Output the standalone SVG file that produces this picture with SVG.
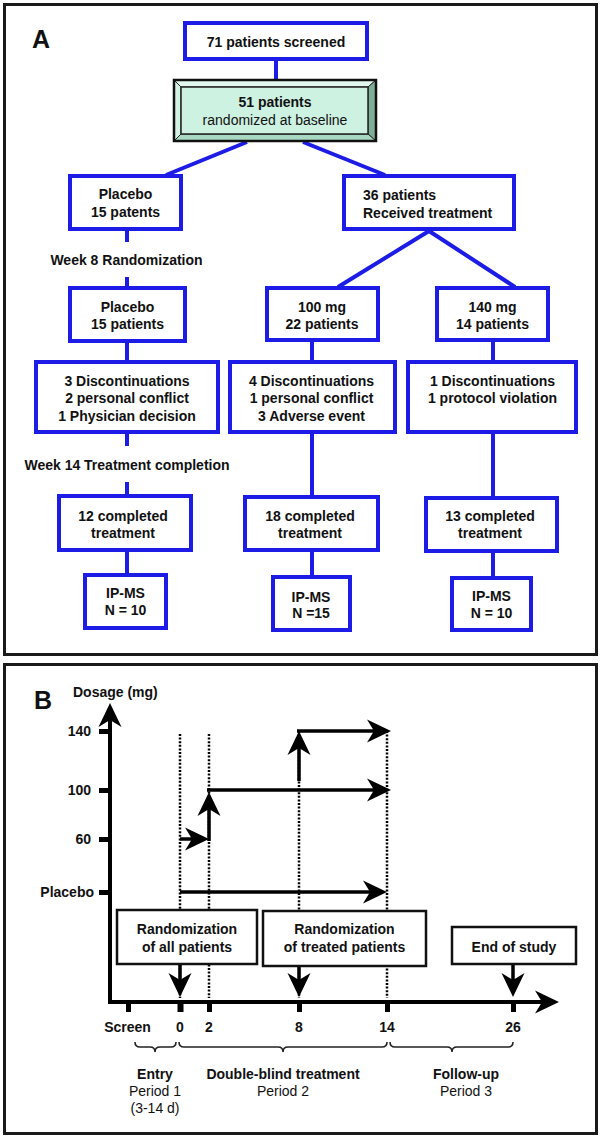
<svg xmlns="http://www.w3.org/2000/svg" width="600" height="1137" viewBox="0 0 600 1137">
<defs>
<style>
text{font-family:"Liberation Sans",Arial,sans-serif;font-size:14px;fill:#111;}
.b{font-weight:bold;}
.c{text-anchor:middle;}
.lbl{font-size:25px;font-weight:bold;}
.panel{fill:none;stroke:#1a1a1a;stroke-width:3;}
.bx{fill:#fff;stroke:#1c1ce6;stroke-width:4;}
.con line{stroke:#1c1ce6;stroke-width:4;}
.kb{fill:#fff;stroke:#111;stroke-width:2.5;}
.ax{stroke:#000;stroke-width:4;fill:none;}
.ar{stroke:#000;stroke-width:3.5;fill:none;}
.dot{stroke:#000;stroke-width:2.5;stroke-dasharray:2 1.6;fill:none;}
.tick{fill:#000;}
.brace{fill:none;stroke:#222;stroke-width:1.6;}
</style>
<marker id="ah" viewBox="-11 -12 26 24" markerWidth="26" markerHeight="24" markerUnits="userSpaceOnUse" refX="0" refY="0" orient="auto">
<path d="M-10,-11.5 L14,0 L-10,11.5 L-3,0 Z" fill="#000"/>
</marker>
</defs>
<rect width="600" height="1137" fill="#fff"/>

<!-- Panel A -->
<rect class="panel" x="4.5" y="4.5" width="592" height="650"/>
<text class="lbl" x="32" y="48">A</text>

<g class="con" id="connectorsA">
<line x1="276" y1="61" x2="276" y2="79"/>
<line x1="247" y1="142" x2="166" y2="175"/>
<line x1="303" y1="142" x2="385" y2="175"/>
<line x1="127" y1="231" x2="127" y2="242"/>
<line x1="127" y1="277" x2="127" y2="287"/>
<line x1="127" y1="343" x2="127" y2="361"/>
<line x1="127" y1="434" x2="127" y2="446"/>
<line x1="127" y1="482" x2="127" y2="495"/>
<line x1="127" y1="552" x2="127" y2="574"/>
<line x1="429" y1="231" x2="338" y2="287"/>
<line x1="429" y1="231" x2="515" y2="287"/>
<line x1="312" y1="342" x2="312" y2="361"/>
<line x1="312" y1="434" x2="312" y2="496"/>
<line x1="312" y1="552" x2="312" y2="576"/>
<line x1="493" y1="342" x2="493" y2="361"/>
<line x1="493" y1="434" x2="493" y2="497"/>
<line x1="493" y1="553" x2="493" y2="577"/>
</g>

<g id="screened">
<rect class="bx" x="185" y="23" width="182" height="36"/>
<text class="b c" x="276" y="47">71 patients screened</text>
</g>

<g id="randomized">
<rect x="174" y="80" width="202" height="61" fill="#cdf2e1"/>
<polygon points="174,80 376,80 368,87 181,87" fill="#e2f8ee" stroke="#222" stroke-width="1"/>
<polygon points="174,80 181,87 181,134 174,141" fill="#d3f3e4" stroke="#222" stroke-width="1"/>
<polygon points="376,80 376,141 368,134 368,87" fill="#7fae98" stroke="#222" stroke-width="1"/>
<polygon points="174,141 376,141 368,134 181,134" fill="#a8d8c1" stroke="#222" stroke-width="1"/>
<rect x="181" y="87" width="187" height="47" fill="#cdf2e1" stroke="#222" stroke-width="1.5"/>
<rect x="174" y="80" width="202" height="61" fill="none" stroke="#111" stroke-width="2.5"/>
<text class="b c" x="275" y="107">51 patients</text>
<text class="c" x="275" y="125">randomized at baseline</text>
</g>

<g id="placebo1">
<rect class="bx" x="70" y="176" width="111" height="53"/>
<text class="b c" x="125.5" y="199">Placebo</text>
<text class="b c" x="125.5" y="217">15 patents</text>
</g>

<g id="treated36">
<rect class="bx" x="344" y="176" width="170" height="53"/>
<text class="b" x="363" y="200">36 patients</text>
<text class="b" x="363" y="218">Received treatment</text>
</g>

<text class="b c" id="week8" x="126.5" y="265">Week 8 Randomization</text>

<g id="placebo2">
<rect class="bx" x="70" y="288" width="115" height="53"/>
<text class="b c" x="127.5" y="312">Placebo</text>
<text class="b c" x="127.5" y="329">15 patients</text>
</g>

<g id="mg100">
<rect class="bx" x="267" y="288" width="111" height="52"/>
<text class="b c" x="322" y="312">100 mg</text>
<text class="b c" x="322" y="329">22 patients</text>
</g>

<g id="mg140">
<rect class="bx" x="437" y="288" width="111" height="52"/>
<text class="b c" x="492.5" y="312">140 mg</text>
<text class="b c" x="492.5" y="329">14 patients</text>
</g>

<g id="discPlacebo">
<rect class="bx" x="36" y="362" width="182" height="70"/>
<text class="b c" x="127" y="386">3 Discontinuations</text>
<text class="b c" x="127" y="403">2 personal conflict</text>
<text class="b c" x="127" y="421">1 Physician decision</text>
</g>

<g id="disc100">
<rect class="bx" x="230" y="362" width="165" height="70"/>
<text class="b c" x="311.5" y="386">4 Discontinuations</text>
<text class="b c" x="311.5" y="403">1 personal conflict</text>
<text class="b c" x="311.5" y="421">3 Adverse event</text>
</g>

<g id="disc140">
<rect class="bx" x="408" y="362" width="168" height="70"/>
<text class="b c" x="492.5" y="386">1 Discontinuations</text>
<text class="b c" x="492.5" y="403">1 protocol violation</text>
</g>

<text class="b c" id="week14" x="127" y="470">Week 14 Treatment completion</text>

<g id="comp12">
<rect class="bx" x="59" y="496" width="132" height="54"/>
<text class="b c" x="123" y="521">12 completed</text>
<text class="b c" x="123" y="538">treatment</text>
</g>

<g id="comp18">
<rect class="bx" x="245" y="497" width="133" height="53"/>
<text class="b c" x="310" y="521">18 completed</text>
<text class="b c" x="310" y="538">treatment</text>
</g>

<g id="comp13">
<rect class="bx" x="426" y="498" width="131" height="53"/>
<text class="b c" x="490" y="521">13 completed</text>
<text class="b c" x="490" y="538">treatment</text>
</g>

<g id="ipms1">
<rect class="bx" x="85" y="575" width="81" height="53"/>
<text class="b c" x="125.5" y="598">IP-MS</text>
<text class="b c" x="125.5" y="615">N = 10</text>
</g>

<g id="ipms2">
<rect class="bx" x="273" y="577" width="77" height="53"/>
<text class="b c" x="311" y="602">IP-MS</text>
<text class="b c" x="311" y="618">N =15</text>
</g>

<g id="ipms3">
<rect class="bx" x="452" y="578" width="79" height="52"/>
<text class="b c" x="491.5" y="601">IP-MS</text>
<text class="b c" x="491.5" y="618">N = 10</text>
</g>

<!-- Panel B -->
<rect class="panel" x="4.5" y="664.5" width="592" height="469"/>
<text class="lbl" x="34" y="709">B</text>
<text class="b" x="73" y="697">Dosage (mg)</text>

<g id="gridlines">
<line class="dot" x1="180" y1="734" x2="180" y2="998"/>
<line class="dot" x1="209" y1="734" x2="209" y2="998"/>
<line class="dot" x1="299" y1="731" x2="299" y2="998"/>
<line class="dot" x1="387" y1="731" x2="387" y2="998"/>
</g>

<g id="axes">
<line class="ax" x1="110" y1="1002" x2="110" y2="717" marker-end="url(#ah)"/>
<line class="ax" x1="108" y1="1002" x2="545" y2="1002" marker-end="url(#ah)"/>
<rect class="tick" x="99" y="729" width="11" height="5"/>
<rect class="tick" x="99" y="788" width="11" height="5"/>
<rect class="tick" x="99" y="837" width="11" height="5"/>
<rect class="tick" x="99" y="890" width="11" height="5"/>
<rect class="tick" x="126" y="1002" width="5" height="10"/>
<rect class="tick" x="177.5" y="1002" width="6" height="10"/>
<rect class="tick" x="207" y="1002" width="5" height="10"/>
<rect class="tick" x="297" y="1002" width="5" height="10"/>
<rect class="tick" x="385" y="1002" width="5" height="10"/>
<rect class="tick" x="511" y="1002" width="5" height="10"/>
<text class="b" x="91" y="736" text-anchor="end">140</text>
<text class="b" x="91" y="795" text-anchor="end">100</text>
<text class="b" x="91" y="844" text-anchor="end">60</text>
<text class="b" x="94" y="897" text-anchor="end">Placebo</text>
<text class="b c" x="127.5" y="1032">Screen</text>
<text class="b c" x="180" y="1032">0</text>
<text class="b c" x="209" y="1032">2</text>
<text class="b c" x="299" y="1032">8</text>
<text class="b c" x="387" y="1032">14</text>
<text class="b c" x="513" y="1032">26</text>
</g>

<g id="dosing">
<line class="ar" x1="180" y1="892" x2="373" y2="892" marker-end="url(#ah)"/>
<line class="ar" x1="180" y1="839" x2="195" y2="839" marker-end="url(#ah)"/>
<line class="ar" x1="209" y1="841" x2="209" y2="806" marker-end="url(#ah)"/>
<line class="ar" x1="207" y1="790" x2="377" y2="790" marker-end="url(#ah)"/>
<line class="ar" x1="299" y1="781" x2="299" y2="745" marker-end="url(#ah)"/>
<line class="ar" x1="297" y1="731" x2="377" y2="731" marker-end="url(#ah)"/>
</g>

<g id="randAll">
<rect class="kb" x="117" y="910" width="140" height="54"/>
<text class="b c" x="187" y="934">Randomization</text>
<text class="b c" x="187" y="952">of all patients</text>
<line class="ar" x1="180" y1="965" x2="180" y2="983" marker-end="url(#ah)"/>
</g>

<g id="randTreated">
<rect class="kb" x="263" y="911" width="163" height="55"/>
<text class="b c" x="344.5" y="934">Randomization</text>
<text class="b c" x="344.5" y="952">of treated patients</text>
<line class="ar" x1="299" y1="967" x2="299" y2="983" marker-end="url(#ah)"/>
</g>

<g id="endStudy">
<rect class="kb" x="452" y="927" width="124" height="37"/>
<text class="b c" x="514" y="952">End of study</text>
<line class="ar" x1="513" y1="965" x2="513" y2="983" marker-end="url(#ah)"/>
</g>

<g id="periods">
<path class="brace" d="M135,1042 q0,5 5,5 L150,1047 q5,0 5,5 q0,-5 5,-5 L171,1047 q5,0 5,-5"/>
<path class="brace" d="M179,1042 q0,5 5,5 L278,1047 q5,0 5,5 q0,-5 5,-5 L382,1047 q5,0 5,-5"/>
<path class="brace" d="M390,1042 q0,5 5,5 L447,1047 q5,0 5,5 q0,-5 5,-5 L508,1047 q5,0 5,-5"/>
<text class="b c" x="155" y="1079">Entry</text>
<text class="c" x="155" y="1096">Period 1</text>
<text class="c" x="155" y="1113">(3-14 d)</text>
<text class="b c" x="283" y="1079">Double-blind treatment</text>
<text class="c" x="283" y="1096">Period 2</text>
<text class="b c" x="466" y="1079">Follow-up</text>
<text class="c" x="466" y="1096">Period 3</text>
</g>
</svg>
